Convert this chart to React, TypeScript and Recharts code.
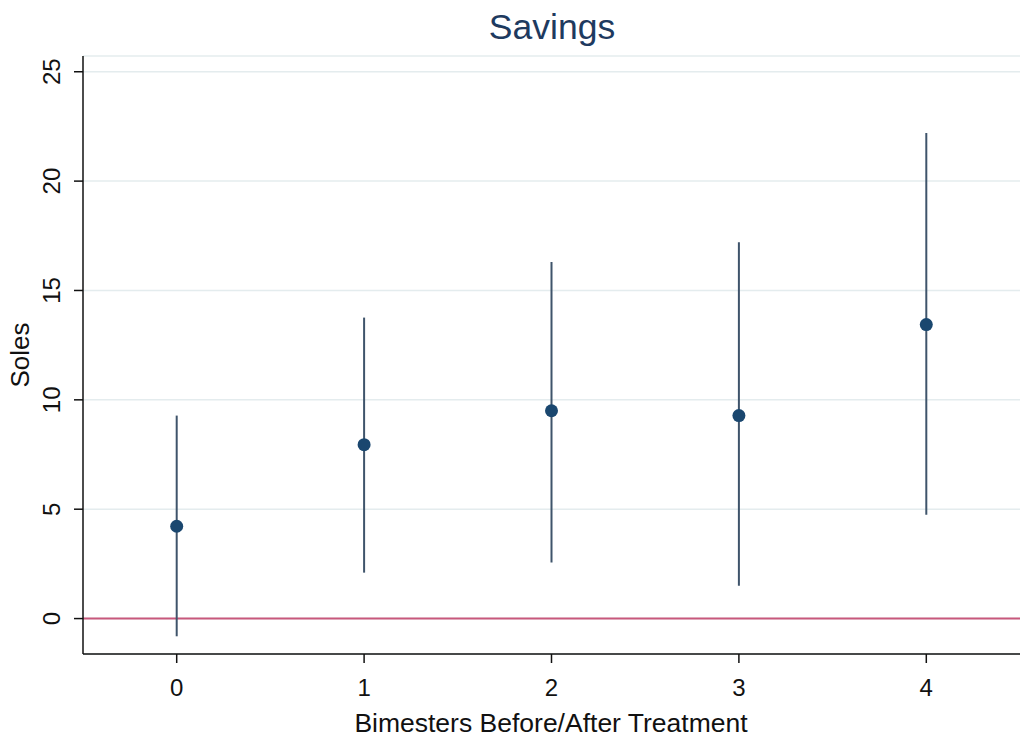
import { ComposedChart, Scatter, ErrorBar, XAxis, YAxis, CartesianGrid, ReferenceLine } from 'recharts';

// bimesters relative to treatment
const bimesters = [0, 1, 2, 3, 4];
const estimates = [4.22, 7.95, 9.5, 9.28, 13.44];
const lowerCI = [-0.81, 2.1, 2.56, 1.5, 4.75];
const upperCI = [9.28, 13.76, 16.3, 17.2, 22.2];

const xTicks = [0, 1, 2, 3, 4];
const yTicks = [0, 5, 10, 15, 20, 25];

const navy = '#1a476f';
const font = '"Liberation Sans", Arial, sans-serif';

const data = bimesters.map((b, i) => ({
  bimester: b,
  est: estimates[i],
  ci: [estimates[i] - lowerCI[i], upperCI[i] - estimates[i]],
}));

function YTick(props: any) {
  const { x, y, payload } = props;
  const tx = x - 12;
  return (
    <text x={tx} y={y} transform={`rotate(-90, ${tx}, ${y})`} textAnchor="middle" fontSize={24} fontFamily={font} fill="#111">
      {payload.value}
    </text>
  );
}

function XTick(props: any) {
  const { x, y, payload } = props;
  return (
    <text x={x} y={y + 31} textAnchor="middle" fontSize={24} fontFamily={font} fill="#111">
      {payload.value}
    </text>
  );
}

function Dot(props: any) {
  return <circle cx={props.cx} cy={props.cy} r={6.5} fill={navy} />;
}

export default function App() {
  return (
    <div style={{ position: 'absolute', left: 0, top: 0, width: 1034, height: 738, background: '#fff' }}>
      <ComposedChart width={1034} height={738} data={data} margin={{ top: 56, right: 14, left: 0, bottom: 0 }}>
        <CartesianGrid vertical={false} stroke="#e4ecee" strokeWidth={1.5} />
        <XAxis
          type="number"
          dataKey="bimester"
          domain={[-0.5, 4.5]}
          ticks={xTicks}
          height={84}
          tickSize={9}
          tickMargin={2}
          tick={<XTick />}
          axisLine={{ stroke: '#111', strokeWidth: 1.5 }}
          tickLine={{ stroke: '#111', strokeWidth: 1.5 }}
        />
        <YAxis
          type="number"
          domain={[-1.62, 25.72]}
          allowDataOverflow
          ticks={yTicks}
          width={83}
          tickSize={9}
          tickMargin={2}
          tick={<YTick />}
          axisLine={{ stroke: '#111', strokeWidth: 1.5 }}
          tickLine={{ stroke: '#111', strokeWidth: 1.5 }}
        />
        <ReferenceLine y={0} stroke="#c8587c" strokeWidth={2} />
        <Scatter dataKey="est" shape={<Dot />} isAnimationActive={false}>
          <ErrorBar dataKey="ci" direction="y" width={0} stroke="#3f546b" strokeWidth={2} isAnimationActive={false} />
        </Scatter>
      </ComposedChart>
      <svg width={1034} height={738} style={{ position: 'absolute', left: 0, top: 0, pointerEvents: 'none' }}>
        <text x={552} y={39} textAnchor="middle" fontSize={35.5} fontFamily={font} fill="#1e3a5f">
          Savings
        </text>
        <text x={551} y={732} textAnchor="middle" fontSize={26.5} fontFamily={font} fill="#111">
          Bimesters Before/After Treatment
        </text>
        <text x={29} y={355} transform="rotate(-90, 29, 355)" textAnchor="middle" fontSize={26} fontFamily={font} fill="#111">
          Soles
        </text>
      </svg>
    </div>
  );
}
